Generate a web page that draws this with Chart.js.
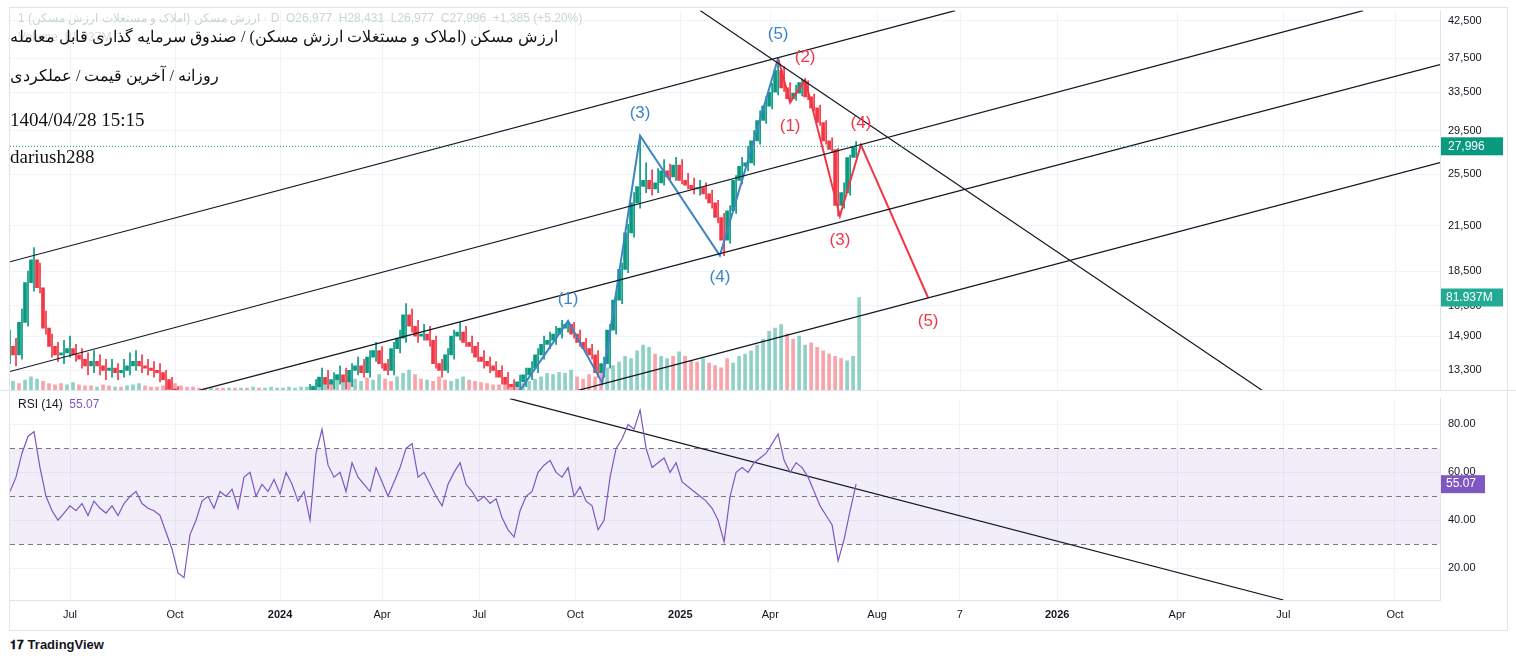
<!DOCTYPE html>
<html><head><meta charset="utf-8">
<script src="https://cdn.jsdelivr.net/npm/chart.js@4.4.1/dist/chart.umd.min.js"></script>
<style>
body{margin:0;background:#fff;width:1516px;height:663px;overflow:hidden;position:relative;font-family:"Liberation Sans",Arial,sans-serif}
#c1{position:absolute;left:0;top:-4px}
#c2{position:absolute;left:0;top:384px}
.t{position:absolute;left:10px;font-family:"Liberation Serif","DejaVu Serif",serif;font-size:19px;color:#111;white-space:nowrap}
.rt{direction:rtl;unicode-bidi:isolate;display:inline-block}
#frame{position:absolute;left:9px;top:7px;width:1497px;height:622px;border:1px solid #e0e3eb;pointer-events:none}
</style></head><body>
<canvas id="c1" width="1516" height="409"></canvas>
<canvas id="c2" width="1516" height="246"></canvas>
<div id="frame"></div>
<div style="position:absolute;left:18px;top:11px;font-size:12px;color:#c9d6d3">1 ارزش مسکن (املاک و مستغلات ارزش مسکن) · D&nbsp; O26,977&nbsp; H28,431&nbsp; L26,977&nbsp; C27,996&nbsp; +1,385 (+5.20%)</div>
<div style="position:absolute;left:18px;top:30px;font-size:12px;color:#d5dde0">Volume&nbsp; 81.937M</div>
<div class="t rt" style="top:27px;font-size:16px">ارزش مسکن (املاک و مستغلات ارزش مسکن) / صندوق سرمایه گذاری قابل معامله</div>
<div class="t rt" style="top:66px;font-size:16px">روزانه / آخرین قیمت / عملکردی</div>
<div class="t" style="top:109px">1404/04/28 15:15</div>
<div class="t" style="top:146px">dariush288</div>
<div style="position:absolute;left:18px;top:397px;font-size:12px;color:#131722">RSI (14)&nbsp; <span style="color:#7e57c2">55.07</span></div>
<div style="position:absolute;left:10px;top:637px;font-size:13px;color:#131722;font-weight:bold"><span style="font-size:12px">𝟏𝟕</span> TradingView</div>
<script>
const closes=[14400,14000,15600,17800,19200,17500,15300,14400,14000,14100,14300,14000,13800,13500,13700,13500,13300,13400,13200,13300,13500,13700,13500,13400,13300,13200,12900,12500,
12300,12200,12100,12000,11900,11900,11800,11700,11700,11600,11600,11500,11500,11400,11400,11500,11600,11700,11800,11900,12000,12100,12300,
12600,13000,12700,12900,13100,12800,13300,13500,13200,13900,14200,13600,13300,14300,14800,16000,15400,14900,15000,14700,
13600,13300,14000,14900,15100,14600,14400,13900,13700,13500,13300,13000,12700,12600,12800,13100,13400,14000,14500,14700,
15000,15300,15500,15000,14600,14300,14000,13200,13600,15200,16800,18600,21000,23200,24500,25000,24300,24800,25800,25300,
26300,25000,24600,24300,24400,23900,23200,22100,20500,22600,25000,26200,26500,28500,30500,32000,33500,36000,34000,32800,
33400,34600,33000,31800,30300,28500,27700,23000,24000,26977,27996];
const highs=[15200,14800,16300,18500,20000,19000,16200,15000,14600,14700,14900,14500,14300,14100,14200,14000,13800,13800,13600,13800,14100,14200,14000,13800,13700,13600,13300,13000,
12600,12400,12300,12200,12100,12100,12000,11900,11900,11800,11800,11700,11700,11600,11600,11700,11800,11900,12000,12100,12200,12400,12700,
12900,13400,13300,13200,13500,13400,13600,13900,13800,14200,14600,14400,13800,14600,15200,16600,16300,15700,15500,15400,
14900,13800,14300,15200,15600,15400,14900,14600,14200,13900,13700,13500,13200,12900,13100,13400,13700,14300,14900,15100,
15400,15700,15700,15600,15200,14800,14500,14200,13900,15500,17200,19000,21600,24000,28990,26500,25900,26000,26800,26400,
27000,26800,25600,25200,25000,24800,24200,23400,22400,23000,25400,27000,28000,29500,31500,33000,34500,37500,36500,34600,
34300,35000,34800,33300,32100,30500,28800,27800,24800,27200,28431];
const lows=[13600,13500,13800,15400,17300,17200,15000,13900,13700,13600,13900,13700,13400,13100,13200,13100,12900,13000,12900,13000,13100,13300,13200,13100,13000,12800,12400,12200,
12100,12000,11900,11800,11700,11700,11600,11500,11500,11400,11400,11300,11300,11200,11200,11300,11400,11500,11600,11700,11800,11900,12100,
12000,12400,12500,12500,12700,12500,12600,13100,13000,13000,13700,13400,13100,13100,14100,14600,15100,14600,14700,14400,
13400,13000,13200,13800,14700,14400,14100,13700,13400,13200,13000,12700,12500,12400,12400,12600,12900,13200,13800,14300,
14500,14800,15100,14800,14400,14100,13800,13000,13000,13400,15000,16600,18400,20700,22800,24000,23800,24000,24600,25000,
25000,24700,24300,23900,23800,23500,22800,21700,19470,20300,22400,24700,25800,26300,28200,30200,31700,33200,33600,32500,
32600,33100,32700,31500,30000,28200,27400,22200,22800,23800,26977];
const volumes=[8,6,9,12,10,8,6,5,6,5,7,5,4,4,3,5,4,3,3,4,5,6,4,3,3,4,5,6,
4,3,3,2,2,2,2,2,2,2,2,2,3,2,2,3,2,2,3,2,3,3,4,
12,10,8,14,9,12,10,8,11,9,14,10,8,12,15,18,14,10,9,8,12,9,8,10,12,9,8,7,6,5,5,6,5,4,6,8,10,12,15,14,16,15,18,12,10,14,12,16,20,22,
25,30,28,35,40,38,32,30,28,30,34,30,26,25,28,24,22,20,28,24,30,32,35,40,45,52,55,58,50,45,48,40,42,38,35,32,30,28,26,30,81.937];
const rsi=[52,58,68,75,77,62,50,44,40,43,46,44,47,42,48,45,43,46,42,47,50,52,47,45,44,42,35,28,18,16,34,40,48,50,45,52,50,53,45,58,60,50,55,52,57,51,60,55,48,52,40,
68,78,63,58,60,52,64,58,55,52,62,56,50,56,62,70,72,58,60,55,50,46,55,60,64,55,52,48,50,47,49,41,36,33,44,50,52,60,63,65,60,58,62,50,54,48,46,36,40,58,70,74,80,78,86,70,62,64,66,60,64,56,54,52,50,48,45,40,31,50,60,62,60,64,66,68,72,76,65,60,64,62,58,52,46,42,38,23,32,44,55.07];
const tickPos=[10,27.5,45,62,78.2,94.2,111.7,126.7,144.5,158.3,174.5,194.5,212.2,230.8];
const tickLabels=["Jul","Oct","2024","Apr","Jul","Oct","2025","Apr","Aug","7","2026","Apr","Jul","Oct"];
const priceTicks=[13300,14900,16500,18500,21500,25500,29500,33500,37500,42500];
const rsiTicks=[20,40,60,80];
const channelLines=[[[0,19080],[157.5,43940]],[[0,13250],[225.5,43940]],[[31.5,12445],[238.3,36720]],[[94.7,12445],[238.3,26520]],[[115,43940],[208.7,12445]]];
const rsiLine=[[83.3,90.8],[212.2,6.7]];
const blueWave=[[85,12445],[93,15680],[98.7,12760],[105,28990],[118.3,19470],[128,37500]];
const blueLabels=[[93,"(1)",-22],[105,"(3)",-22],[118.3,"(4)",22],[128,"(5)",-24]];
const redWave=[[128,37500],[130,32380],[132.5,34940],[138.3,22220],[141.8,28130],[153,16930]];
const redLabels=[[1,"(1)",24],[2,"(2)",-22],[3,"(3)",24],[4,"(4)",-22],[5,"(5)",24]];

const XMIN=0,XMAX=238.3,PMIN=12445,PMAX=43940;
const GREEN='#089981',RED='#f23645';
const opens=closes.map((c,i)=>i?closes[i-1]:14000);
const up=closes.map((c,i)=>c>=opens[i]);
const xTicks=s=>{s.ticks=tickPos.map(v=>({value:v}));};
const fmt=v=>v.toLocaleString('en-US');
const gridC='#f0f3fa';

const overlay={id:'ov',beforeDatasetsDraw(ch){
 const c=ch.ctx,x=ch.scales.x,a=ch.chartArea;
 c.save();c.strokeStyle=gridC;c.lineWidth=1;
 tickPos.forEach(v=>{const p=Math.round(x.getPixelForValue(v))+0.5;c.beginPath();c.moveTo(p,a.top);c.lineTo(p,a.bottom);c.stroke();});
 c.strokeStyle='#e0e3eb';c.beginPath();c.moveTo(a.right+0.5,a.top);c.lineTo(a.right+0.5,a.bottom);c.stroke();
 c.restore();
},afterDatasetsDraw(ch){
 const c=ch.ctx,x=ch.scales.x,y=ch.scales.y,a=ch.chartArea;
 c.save();
 c.font='17px "Liberation Sans",Arial';c.textAlign='center';c.textBaseline='middle';
 c.fillStyle='#3d85c6';
 blueLabels.forEach(([i,t,d])=>{const p=blueWave.find(q=>q[0]===i);c.fillText(t,x.getPixelForValue(i),y.getPixelForValue(p[1])+d);});
 c.fillStyle=RED;
 redLabels.forEach(([k,t,d])=>{const p=redWave[k];c.fillText(t,x.getPixelForValue(p[0]),y.getPixelForValue(p[1])+d);});
 const ly=y.getPixelForValue(closes[closes.length-1]);
 c.setLineDash([1,2]);c.strokeStyle=GREEN;c.lineWidth=1;c.beginPath();c.moveTo(a.left,ly);c.lineTo(a.right,ly);c.stroke();c.setLineDash([]);
 c.restore();
 c.save();
 c.font='12px "Liberation Sans",Arial';c.textBaseline='middle';c.textAlign='left';
 c.fillStyle=GREEN;c.fillRect(a.right+1,ly-9,62,18);c.fillStyle='#fff';c.fillText('27,996',a.right+8,ly);
 const vy=ch.scales.vol.getPixelForValue(volumes[volumes.length-1]);
 c.fillStyle='#22ab94';c.fillRect(a.right+1,vy-9,62,18);c.fillStyle='#fff';c.fillText('81.937M',a.right+6,vy);
 c.restore();
}};
const lineDs=(pts,col,w)=>({type:'line',data:pts.map(p=>({x:p[0],y:p[1]})),borderColor:col,borderWidth:w,pointRadius:0,yAxisID:'y',tension:0,order:0});

new Chart(document.getElementById('c1'),{
 data:{datasets:[
  {type:'bar',yAxisID:'vol',data:volumes.map((v,i)=>({x:i,y:v})),backgroundColor:up.map(u=>u?'rgba(8,153,129,0.45)':'rgba(242,54,69,0.45)'),barThickness:3,order:5},
  {type:'bar',yAxisID:'y',data:closes.map((c,i)=>({x:i,y:[lows[i],highs[i]]})),backgroundColor:up.map(u=>u?GREEN:RED),barThickness:1,order:4},
  {type:'bar',yAxisID:'y',data:closes.map((c,i)=>({x:i,y:[Math.min(opens[i],c),Math.max(opens[i],c)+1]})),backgroundColor:up.map(u=>u?GREEN:RED),barThickness:3,order:3},
  ...channelLines.map(l=>lineDs(l,'#131722',1.2)),
  lineDs(blueWave,'#3d85c6',2),lineDs(redWave,RED,2)
 ]},
 options:{responsive:false,animation:false,events:[],layout:{padding:{left:10,top:2,right:0,bottom:0}},
  plugins:{legend:{display:false},tooltip:{enabled:false}},
  scales:{
   x:{type:'linear',display:false,offset:false,min:XMIN,max:XMAX},
   y:{type:'logarithmic',position:'right',min:PMIN,max:PMAX,afterBuildTicks(s){s.ticks=priceTicks.map(v=>({value:v}));},
      ticks:{callback:v=>fmt(v),color:'#131722',font:{size:11,family:'"Liberation Sans",Arial'},padding:8},grid:{color:gridC,drawTicks:false},border:{display:false},afterFit(s){s.width=76;}},
   vol:{type:'linear',display:false,min:0,max:335}
  }},
 plugins:[overlay]
});

const rsiBand={id:'band',beforeDatasetsDraw(ch){
 const c=ch.ctx,y=ch.scales.y,a=ch.chartArea;
 c.save();c.fillStyle='rgba(126,87,194,0.1)';
 const y70=y.getPixelForValue(70),y30=y.getPixelForValue(30);
 c.fillRect(a.left,y70,a.right-a.left,y30-y70);
 c.setLineDash([5,4]);c.strokeStyle='#787b86';c.lineWidth=1;
 [70,50,30].forEach(v=>{const p=Math.round(y.getPixelForValue(v))+0.5;c.beginPath();c.moveTo(a.left,p);c.lineTo(a.right,p);c.stroke();});
 c.restore();
},afterDatasetsDraw(ch){
 const c=ch.ctx,y=ch.scales.y,a=ch.chartArea,py=y.getPixelForValue(rsi[rsi.length-1]);
 c.save();c.fillStyle='#7e57c2';c.fillRect(a.right+1,py-9,44,18);c.fillStyle='#fff';c.font='12px "Liberation Sans",Arial';c.textBaseline='middle';c.fillText('55.07',a.right+6,py);
 c.strokeStyle='#e0e3eb';c.beginPath();c.moveTo(0,6.5);c.lineTo(1516,6.5);c.stroke();c.restore();
}};
new Chart(document.getElementById('c2'),{
 data:{datasets:[
  {type:'line',data:rsi.map((v,i)=>({x:i,y:v})),borderColor:'#7e57c2',borderWidth:1.2,pointRadius:0,tension:0},
  {type:'line',data:rsiLine.map(p=>({x:p[0],y:p[1]})),borderColor:'#131722',borderWidth:1.2,pointRadius:0}
 ]},
 options:{responsive:false,animation:false,events:[],layout:{padding:{left:10,top:2,right:0,bottom:0}},
  plugins:{legend:{display:false},tooltip:{enabled:false}},
  scales:{
   x:{type:'linear',offset:false,min:XMIN,max:XMAX,afterBuildTicks:xTicks,
      ticks:{autoSkip:false,maxRotation:0,color:'#131722',padding:8,font:c=>({size:11,family:'"Liberation Sans",Arial',weight:/^20/.test(tickLabels[c.index]||'')?'bold':'normal'}),callback:(v,i)=>tickLabels[i]},
      grid:{color:gridC,drawTicks:false},border:{color:'#e0e3eb'},afterFit(s){s.height=30;}},
   y:{type:'linear',position:'right',min:6.7,max:90.8,afterBuildTicks(s){s.ticks=rsiTicks.map(v=>({value:v}));},
      ticks:{callback:v=>v.toFixed(2),color:'#131722',font:{size:11,family:'"Liberation Sans",Arial'},padding:8},grid:{color:gridC,drawTicks:false},border:{color:'#e0e3eb'},afterFit(s){s.width=76;}}
  }},
 plugins:[rsiBand]
});
</script></body></html>
